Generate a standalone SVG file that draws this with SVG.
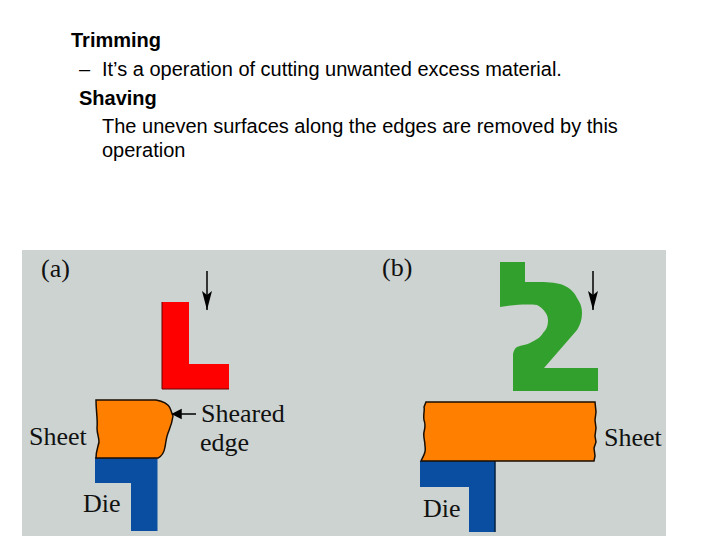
<svg xmlns="http://www.w3.org/2000/svg" width="720" height="540" viewBox="0 0 720 540">
<defs>
<marker id="ah" markerUnits="userSpaceOnUse" markerWidth="20" markerHeight="10" refX="19" refY="5" orient="auto" viewBox="0 0 20 10"><path d="M0 0L4 5L0 10L19 5Z" fill="#000"/></marker>
</defs>
<style>
.t{font-family:"Liberation Sans",Arial,sans-serif;font-size:20px;fill:#000}
.b{font-weight:bold}
.s{font-family:"Liberation Serif","Times New Roman",serif;font-size:26px;fill:#111}
.o{fill:#ff8000;stroke:#1a0d00;stroke-width:1.5}
.d{fill:#0a4ea2}
</style>
<rect width="720" height="540" fill="#fff"/>
<g id="text">
<text class="t b" x="71" y="47">Trimming</text>
<text class="t" x="79" y="76">–</text>
<text class="t" x="102" y="76">It’s a operation of cutting unwanted excess material.</text>
<text class="t b" x="79" y="105">Shaving</text>
<text class="t" x="102" y="133">The uneven surfaces along the edges are removed by this</text>
<text class="t" x="102" y="157">operation</text>
</g>
<rect id="panel" x="22" y="250" width="644" height="286" fill="#ccd3d0"/>
<g id="panel-a">
<text class="s" x="41" y="277">(a)</text>
<path id="punch-a" d="M162 302H189V364H229V389H162Z" fill="#fe0000"/>
<path d="M162 302V389H229" fill="none" stroke="#6a0000" stroke-width="1"/>
<path id="die-a" class="d" d="M95 457H157.500V531H131V483H95Z"/>
<path id="sheet-a" class="o" d="M96 400H156C162 401 168 404 170 408L173 416C172 424 170 428 168 433C166 438 166 442 165 447C164 453 162 456 158 458H96C96 451 98 447 99 442C99 437 97 434 97 428C98 420 96 412 96 400Z"/>
<text class="s" x="29" y="445">Sheet</text>
<text class="s" x="83" y="512">Die</text>
<text class="s" x="201" y="422">Sheared</text>
<text class="s" x="200" y="451">edge</text>
</g>
<g id="panel-b">
<text class="s" x="382" y="276">(b)</text>
<path id="punch-b" d="M500 262H525V282H540C550 282 558 283 563 285C570 288 575 293 577 298C581 304 582 308 582 313C582 320 580 325 577 330L544 368H598V391H513V354C514 350 515 348 517 347C522 345 526 345 530 343C536 340 541 337 543 333C547 329 548 325 548 320C548 314 543 308 537 305C530 304 517 304 500 307Z" fill="#32a02c"/>
<path id="die-b" class="d" d="M420 461H495V532H469V487H420Z"/>
<path d="M495 461V532" stroke="#05203f" stroke-width="1.500" fill="none"/>
<path id="sheet-b" class="o" d="M426 402H595L596 412L595 420L596 428L595 436L596 442L594 448L595 456L594 461H421C424 455 426 452 425 446C425 440 423 437 424 432C425 428 426 425 424 420C423 414 425 410 424 407Z"/>
<text class="s" x="604" y="446">Sheet</text>
<text class="s" x="423" y="517">Die</text>
</g>
<g id="connectors" fill="none" stroke="#000" stroke-width="1.500">
<path d="M207 271V310" marker-end="url(#ah)"/>
<path d="M593 271V310" marker-end="url(#ah)"/>
<path d="M196 414H174"/>
<path d="M181 410L173 414L181 418Z" fill="#000"/>
</g>
</svg>
